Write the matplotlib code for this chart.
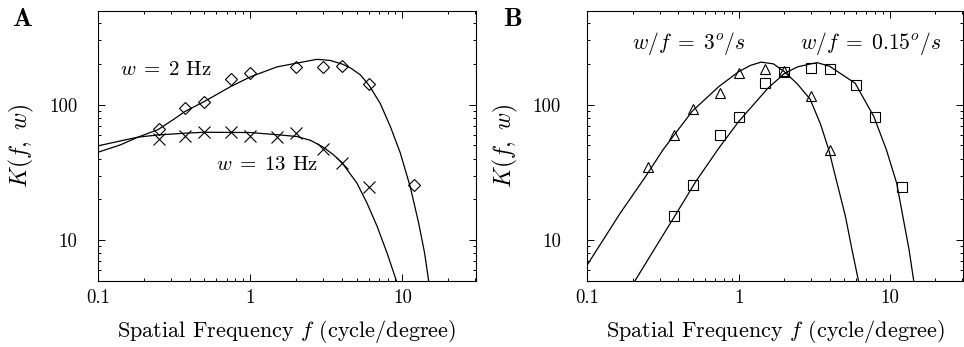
import matplotlib
matplotlib.use("Agg")
import matplotlib.pyplot as plt
from matplotlib.ticker import FixedLocator, FixedFormatter, LogLocator, NullFormatter

plt.rcParams["font.family"] = "serif"
plt.rcParams["font.serif"] = ["cmr10", "DejaVu Serif"]
plt.rcParams["mathtext.fontset"] = "cm"
plt.rcParams["axes.formatter.use_mathtext"] = True

# ---- panel A: measured points ----
f_a = [0.25, 0.375, 0.5, 0.75, 1, 2, 3, 4, 6, 12]
k_2hz = [66, 94, 105, 154, 171, 189, 190, 193, 143, 25.5]
f_a13 = [0.25, 0.375, 0.5, 0.75, 1, 1.5, 2, 3, 4, 6]
k_13hz = [56, 59, 62.7, 62.7, 59, 58, 61.5, 47.2, 37, 24.5]

# ---- panel A: model curves ----
cf_2hz = [0.1, 0.14, 0.183, 0.248, 0.32, 0.372, 0.503, 0.753, 1.01, 1.5, 2.0, 2.75,
          3.36, 4.04, 4.55, 5.3, 6.07, 7.16, 8.34, 9.7, 11.3, 12.8, 14.0, 14.9]
ck_2hz = [44.6, 50.5, 57.6, 65.5, 79, 89, 106, 137, 161, 190, 202, 216,
          212, 199, 187, 166, 138, 102, 69, 44, 24.5, 13.4, 8.07, 5.0]
cf_13hz = [0.1, 0.14, 0.183, 0.248, 0.372, 0.5, 1.0, 1.57, 2.03, 2.5, 3.03, 3.5,
           4.0, 5.03, 5.86, 6.82, 7.93, 9.15]
ck_13hz = [49.7, 54, 57.6, 59.8, 61.6, 62.6, 62.3, 59.8, 58.2, 54.5, 48.5, 43,
           37.5, 26.4, 18.8, 12.7, 8.07, 5.0]

# ---- panel B: measured points ----
f_tri = [0.25, 0.375, 0.5, 0.75, 1, 1.5, 2, 3, 4]
k_tri = [34.6, 59.8, 92.5, 121, 170, 182, 177, 116, 46.4]
f_sq = [0.375, 0.5, 0.75, 1, 1.5, 2, 3, 4, 6, 8, 12]
k_sq = [15.0, 25.5, 59.6, 80.8, 145, 175, 187, 182, 140, 80.8, 24.7]

# ---- panel B: model curves ----
cf_tri = [0.1, 0.164, 0.245, 0.316, 0.375, 0.496, 0.74, 1.0, 1.2, 1.41, 1.7, 2.01,
          2.45, 2.97, 3.48, 3.95, 4.48, 5.09, 5.62, 6.21]
ck_tri = [6.6, 15.7, 30, 46.4, 59.8, 90, 136, 175, 195, 206, 200, 175,
          142, 110, 72, 46.4, 26.4, 15, 8.55, 5.0]
cf_sq = [0.206, 0.272, 0.376, 0.521, 0.74, 1.0, 1.56, 2.01, 2.45, 3.0, 3.32, 4.0,
         4.71, 5.9, 7.85, 9.5, 11.1, 12.2, 13.4, 14.4]
ck_sq = [5.0, 8.3, 14.9, 27.1, 47.8, 75, 132, 170, 190, 200, 204, 192,
         170, 144, 81.6, 46.4, 26.4, 15, 8.55, 5.0]

XLIM = (0.1, 30.5)
YLIM = (5, 490)


def style_axes(ax, ypad):
    ax.set_xscale("log")
    ax.set_yscale("log")
    ax.set_xlim(*XLIM)
    ax.set_ylim(*YLIM)
    ax.xaxis.set_major_locator(FixedLocator([0.1, 1, 10]))
    ax.xaxis.set_major_formatter(FixedFormatter(["0.1", "1", "10"]))
    ax.yaxis.set_major_locator(FixedLocator([10, 100]))
    ax.yaxis.set_major_formatter(FixedFormatter(["10", "100"]))
    ax.xaxis.set_minor_locator(LogLocator(base=10, subs=range(2, 10)))
    ax.yaxis.set_minor_locator(LogLocator(base=10, subs=range(2, 10)))
    ax.xaxis.set_minor_formatter(NullFormatter())
    ax.yaxis.set_minor_formatter(NullFormatter())
    ax.tick_params(which="both", direction="in", top=True, right=True,
                   labelsize=13.5, width=0.7)
    ax.tick_params(which="major", length=5)
    ax.tick_params(which="minor", length=2.5)
    ax.tick_params(axis="x", which="major", pad=6)
    ax.tick_params(axis="y", which="major", pad=ypad)
    for s in ax.spines.values():
        s.set_linewidth(0.8)
    ax.set_xlabel(r"Spatial Frequency $f$ (cycle/degree)", fontsize=16, labelpad=8)
    ax.set_ylabel(r"$K(f,\ w)$", fontsize=17, labelpad=9)


fig = plt.figure(figsize=(9.64, 3.47), dpi=100)
axA = fig.add_axes([0.1017, 0.19, 0.3921, 0.778])
axB = fig.add_axes([0.6093, 0.19, 0.3897, 0.778])

lw = 0.9
mk = dict(linestyle="none", markerfacecolor="none", markeredgecolor="black",
          markeredgewidth=0.8)

axA.plot(cf_2hz, ck_2hz, color="black", lw=lw)
axA.plot(cf_13hz, ck_13hz, color="black", lw=lw)
axA.plot(f_a, k_2hz, marker="D", markersize=6, **mk)
axA.plot(f_a13, k_13hz, marker="x", markersize=8, **mk)
axA.text(0.28, 180, r"$w\;=\;2$ Hz", fontsize=15, ha="center", va="center")
axA.text(1.29, 36, r"$w\;=\;13$ Hz", fontsize=15, ha="center", va="center")
style_axes(axA, 15)

axB.plot(cf_tri, ck_tri, color="black", lw=lw)
axB.plot(cf_sq, ck_sq, color="black", lw=lw)
axB.plot(f_tri, k_tri, marker="^", markersize=7, **mk)
axB.plot(f_sq, k_sq, marker="s", markersize=6.5, **mk)
axB.text(0.47, 284, r"$w/f\;=\;3^o/s$", fontsize=15.5, ha="center", va="center")
axB.text(7.48, 284, r"$w/f\;=\;0.15^o/s$", fontsize=15.5, ha="center", va="center")
style_axes(axB, 19)

fig.text(12 / 964, 1 - 19 / 347, "A", family="cmb10", fontsize=19, ha="left", va="center")
fig.text(503 / 964, 1 - 19 / 347, "B", family="cmb10", fontsize=19, ha="left", va="center")

fig.savefig("out.png", dpi=100)
